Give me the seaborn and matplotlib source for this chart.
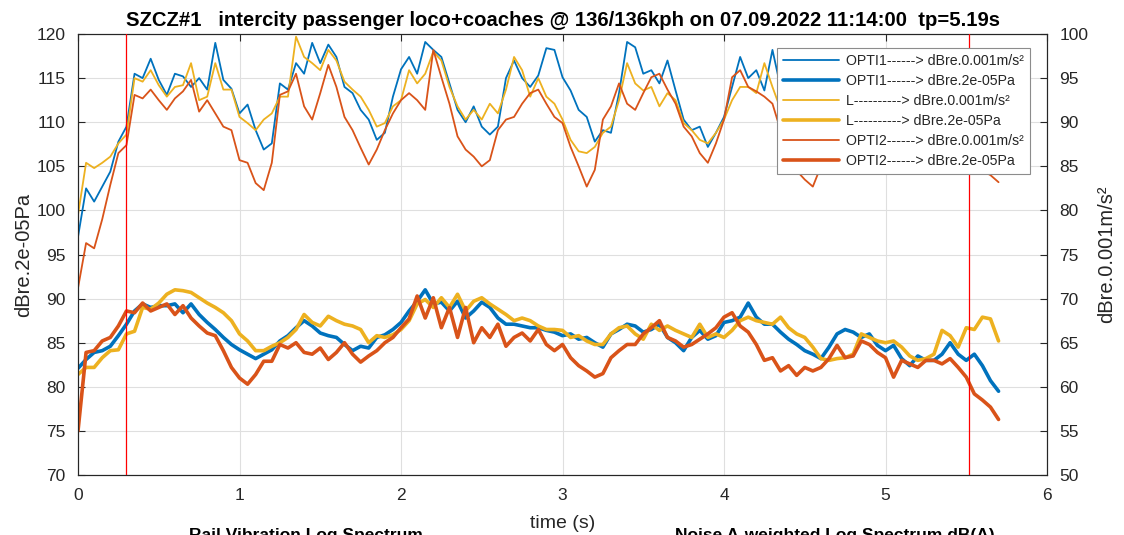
import numpy as np
import pandas as pd
import matplotlib
matplotlib.use("Agg")
import matplotlib.pyplot as plt
import seaborn as sns

# ---------------- data ----------------
time_step = 0.05
n_pts = 115
time_s = np.round(np.arange(n_pts) * time_step, 2)

# vibration levels (right axis, dB re 0.001 m/s^2) - thin lines
opti1_vib = [77.0, 82.5, 81.0, 82.7, 84.4, 87.8, 89.5, 95.5, 95.0, 97.2,
             94.8, 93.1, 95.5, 95.2, 94.0, 95.0, 93.7, 99.0, 94.8, 93.8,
             91.0, 92.0, 89.1, 86.9, 87.6, 94.4, 93.7, 96.7, 95.5, 99.0,
             96.7, 98.8, 97.4, 94.0, 93.3, 91.4, 90.3, 88.0, 88.8, 92.9,
             96.0, 97.4, 95.5, 99.1, 98.2, 97.4, 94.4, 91.4, 90.0, 91.8,
             89.5, 88.6, 89.5, 95.0, 97.0, 95.0, 94.0, 95.3, 98.4, 98.2,
             95.1, 93.6, 91.4, 90.6, 87.8, 89.1, 88.8, 93.3, 99.1, 98.5,
             95.5, 95.9, 94.4, 97.0, 93.6, 90.3, 89.1, 89.5, 87.2, 88.8,
             90.6, 94.0, 97.4, 95.0, 95.9, 93.6, 98.2,
             94.0, 92.5, 91.0, 89.5, 88.5, 89.0, 91.0, 93.5, 95.0, 96.0,
             95.0, 94.0, 92.5, 91.0, 89.5, 88.0, 87.5, 89.0, 91.5, 93.0,
             94.0, 92.0, 90.5, 89.5, 88.5, 87.5, 87.0, 86.5]
l_vib = [79.5, 85.4, 84.8, 85.4, 86.1, 87.6, 88.6, 95.0, 94.6, 95.9,
         94.2, 92.9, 94.0, 94.2, 96.7, 92.5, 92.9, 96.7, 93.7, 93.7,
         90.6, 89.9, 89.1, 90.3, 91.0, 92.9, 92.9, 99.7, 97.4, 96.7,
         95.9, 98.2, 97.0, 94.6, 93.7, 92.9, 91.4, 89.5, 89.9, 91.8,
         92.5, 95.9, 94.4, 95.5, 98.0, 97.0, 94.0, 91.8, 90.3, 91.4,
         90.3, 92.1, 91.0, 93.7, 97.4, 95.9, 92.9, 95.0, 92.9, 92.1,
         90.3, 88.0, 86.7, 86.5, 87.2, 88.8, 89.5, 92.5, 96.7, 94.4,
         93.6, 94.0, 91.8, 93.3, 92.5, 89.9, 89.1, 88.0, 87.6, 88.8,
         90.3, 92.5, 94.0, 94.0, 93.3, 96.7, 94.0,
         91.5, 90.5, 89.0, 88.0, 87.5, 88.5, 90.5, 92.0, 93.5, 94.5,
         93.5, 92.5, 91.0, 90.0, 88.5, 87.5, 87.0, 88.5, 90.5, 92.0,
         93.0, 91.5, 90.0, 89.0, 88.0, 87.5, 87.0, 86.0]
opti2_vib = [71.2, 76.3, 75.7, 79.0, 82.9, 86.5, 87.4, 93.1, 92.7, 93.7,
             92.5, 91.4, 92.7, 93.5, 94.8, 91.2, 92.5, 91.0, 89.5, 89.1,
             85.7, 85.4, 83.1, 82.3, 85.4, 93.1, 93.5, 95.5, 91.8, 90.3,
             93.3, 96.5, 94.0, 90.6, 89.1, 87.1, 85.2, 86.9, 89.1, 91.0,
             92.5, 93.3, 92.5, 91.4, 98.2, 95.1, 92.1, 88.4, 86.9, 86.1,
             85.0, 85.7, 89.1, 90.3, 90.6, 92.1, 93.3, 93.7, 92.1, 90.6,
             89.9, 87.2, 85.0, 82.7, 84.6, 90.3, 91.8, 94.4, 92.1, 91.4,
             93.3, 95.1, 95.5, 93.7, 92.1, 89.5, 88.4, 86.5, 85.4, 87.6,
             90.3, 95.1, 95.9, 94.0, 93.5, 92.9, 92.1,
             89.1, 86.0, 84.5, 83.5, 82.7, 85.0, 88.0, 90.5, 92.0, 93.0,
             92.5, 91.0, 90.5, 89.0, 87.5, 86.0, 85.5, 87.0, 89.5, 91.0,
             92.0, 90.0, 88.5, 87.0, 85.5, 84.5, 84.0, 83.2]

# sound pressure levels (left axis, dB re 2e-05 Pa) - thick lines
opti1_spl = [82.1, 83.1, 83.9, 84.1, 84.6, 85.8, 87.1, 88.6, 89.4, 89.0,
             89.2, 89.2, 89.4, 88.4, 89.4, 88.2, 87.3, 86.5, 85.6, 84.8,
             84.2, 83.7, 83.2, 83.7, 84.2, 85.2, 85.8, 86.7, 87.5, 86.9,
             86.1, 85.8, 85.6, 84.8, 84.1, 84.6, 84.4, 85.6, 85.9, 86.5,
             87.3, 88.6, 89.7, 91.0, 89.4, 89.6, 88.6, 89.7, 87.8, 88.6,
             89.6, 89.0, 87.8, 87.1, 87.1, 86.9, 86.7, 86.7, 86.4, 86.2,
             85.8, 86.0, 85.4, 85.6, 85.0, 84.5, 86.0, 86.5, 87.1, 86.9,
             86.2, 86.5, 87.1, 85.6, 85.0, 84.1, 85.6, 86.4, 85.4, 85.8,
             87.3, 87.5, 87.9, 89.5, 87.9, 87.1, 87.1, 86.2, 85.4, 84.8,
             84.1, 83.7, 83.2, 84.5, 86.0, 86.5, 86.2, 85.6, 86.0, 84.7,
             84.1, 84.7, 83.2, 82.4, 83.5, 83.0, 83.0, 83.7, 85.0, 83.7,
             83.0, 83.7, 82.4, 80.7, 79.5]
l_spl = [81.4, 82.2, 82.2, 83.3, 84.1, 84.2, 86.0, 86.3, 89.0, 88.8,
         89.5, 90.5, 91.0, 90.9, 90.7, 90.1, 89.5, 89.0, 88.4, 87.5,
         86.0, 85.2, 84.1, 84.1, 84.6, 85.0, 85.6, 86.5, 88.2, 87.3,
         86.9, 88.0, 87.5, 87.1, 86.9, 86.5, 85.0, 85.8, 85.6, 85.9,
         86.5, 87.5, 89.4, 89.9, 89.0, 90.1, 89.0, 90.5, 88.6, 89.7,
         90.1, 89.4, 88.8, 88.2, 87.5, 87.8, 87.5, 86.9, 86.5, 86.5,
         86.4, 85.6, 85.8, 85.2, 84.8, 84.8, 86.0, 86.7, 86.9, 86.0,
         85.4, 87.1, 86.4, 86.9, 86.4, 86.0, 85.6, 87.1, 85.6, 86.0,
         85.6, 86.4, 87.5, 87.9, 87.5, 87.3, 87.1, 87.9, 86.7, 86.0,
         85.6, 84.5, 83.2, 83.0, 83.2, 83.3, 83.7, 86.0, 85.6, 85.2,
         85.0, 85.2, 84.5, 83.5, 83.0, 83.2, 83.7, 86.4, 85.8, 84.5,
         86.7, 86.5, 87.9, 87.7, 85.2]
opti2_spl = [75.0, 83.9, 84.1, 85.2, 85.6, 86.9, 88.6, 88.4, 89.5, 88.6,
             89.0, 89.4, 88.2, 89.2, 87.8, 86.9, 86.1, 85.8, 84.1, 82.2,
             81.0, 80.3, 81.4, 82.9, 82.9, 84.8, 84.4, 85.0, 83.9, 83.7,
             84.4, 83.1, 83.9, 85.0, 83.7, 82.8, 83.5, 84.1, 85.0, 85.6,
             86.7, 87.7, 90.3, 87.8, 90.1, 86.7, 89.0, 85.6, 89.0, 85.0,
             86.7, 85.6, 87.1, 84.6, 85.6, 86.1, 85.2, 86.5, 84.8, 84.1,
             84.8, 83.3, 82.4, 81.8, 81.1, 81.5, 83.3, 84.1, 84.8, 84.8,
             86.0, 86.7, 87.5, 85.6, 85.2, 84.5, 84.8, 85.4, 86.0, 86.7,
             87.9, 88.4, 86.9, 86.2, 84.8, 83.0, 83.3, 81.8, 82.4, 81.3,
             82.2, 81.8, 82.2, 83.2, 84.7, 83.3, 83.5, 85.2, 84.8, 83.9,
             83.3, 81.1, 83.0, 82.6, 82.2, 83.0, 83.0, 82.6, 83.2, 82.2,
             81.1, 79.2, 78.5, 77.7, 76.3]

legend_prefix = ["OPTI1------> ", "L----------> ", "OPTI2------> "]
marker_times = [0.3, 5.52]

title_text = ("SZCZ#1   intercity passenger loco+coaches @ 136/136kph "
              "on 07.09.2022 11:14:00  tp=5.19s")

# ---------------- style ----------------
sns.set_theme(style="white")
plt.rcParams["font.family"] = ["Liberation Sans", "DejaVu Sans"]
axcol = "#262626"
colors = ["#0072BD", "#EDB120", "#D95319"]

fig = plt.figure(figsize=(11.24, 5.35), dpi=100)
ax = fig.add_axes([0.0694, 0.1121, 0.8621, 0.8243])
ax2 = ax.twinx()

vib = [opti1_vib, l_vib, opti2_vib]
spl = [opti1_spl, l_spl, opti2_spl]

handles = []
for i in range(3):
    d_v = pd.DataFrame({"t": time_s, "v": vib[i]})
    d_s = pd.DataFrame({"t": time_s, "v": spl[i]})
    sns.lineplot(data=d_s, x="t", y="v", ax=ax, color=colors[i], lw=2.6,
                 legend=False, zorder=2)
    sns.lineplot(data=d_v, x="t", y="v", ax=ax2, color=colors[i], lw=1.3,
                 legend=False, zorder=2)
    h_thin = ax2.lines[-1]
    h_thick = ax.lines[-1]
    h_thin.set_label(legend_prefix[i] + "dBre.0.001m/s\u00b2")
    h_thick.set_label(legend_prefix[i] + "dBre.2e-05Pa")
    handles += [h_thin, h_thick]

for mt in marker_times:
    ax2.axvline(mt, color="#FF0000", lw=0.9, zorder=3)

ax.set_xlim(0, 6)
ax.set_ylim(70, 120)
ax2.set_ylim(50, 100)
ax.set_xticks(range(0, 7))
ax.set_yticks(range(70, 121, 5))
ax2.set_yticks(range(50, 101, 5))

ax.grid(True, color="#DFDFDF", lw=0.8)
ax.set_axisbelow(True)

for a in (ax, ax2):
    for s in a.spines.values():
        s.set_color(axcol)
        s.set_linewidth(0.8)
    a.tick_params(direction="in", length=5, width=0.8, colors=axcol,
                  labelsize=12.5, pad=9)
ax.tick_params(top=True, labeltop=False)
ax2.tick_params(left=False)

ax.set_xlabel("time (s)", fontsize=14, color=axcol, labelpad=9)
ax.set_ylabel("dBre.2e-05Pa", fontsize=14.5, color=axcol, labelpad=2)
ax2.set_ylabel("dBre.0.001m/s\u00b2", fontsize=14.5, color=axcol, labelpad=6)
ax.set_title(title_text, fontsize=14.6, fontweight="bold", color="#000000",
             pad=6)

leg = ax2.legend(handles=handles, loc="upper right",
                 bbox_to_anchor=(0.982, 0.968), fontsize=10.2,
                 frameon=True, fancybox=False, framealpha=1,
                 edgecolor="#8C8C8C", handlelength=3.9, handletextpad=0.5,
                 labelspacing=0.42, borderpad=0.42, borderaxespad=0)
leg.get_frame().set_linewidth(0.8)
leg.set_zorder(10)

fig.text(0.272, 0.013, "Rail Vibration Log Spectrum", fontsize=12.5,
         fontweight="bold", ha="center", va="top", color="#000000")
fig.text(0.743, 0.013, "Noise A-weighted Log Spectrum dB(A)", fontsize=12.5,
         fontweight="bold", ha="center", va="top", color="#000000")

fig.savefig("out.png", dpi=100)
